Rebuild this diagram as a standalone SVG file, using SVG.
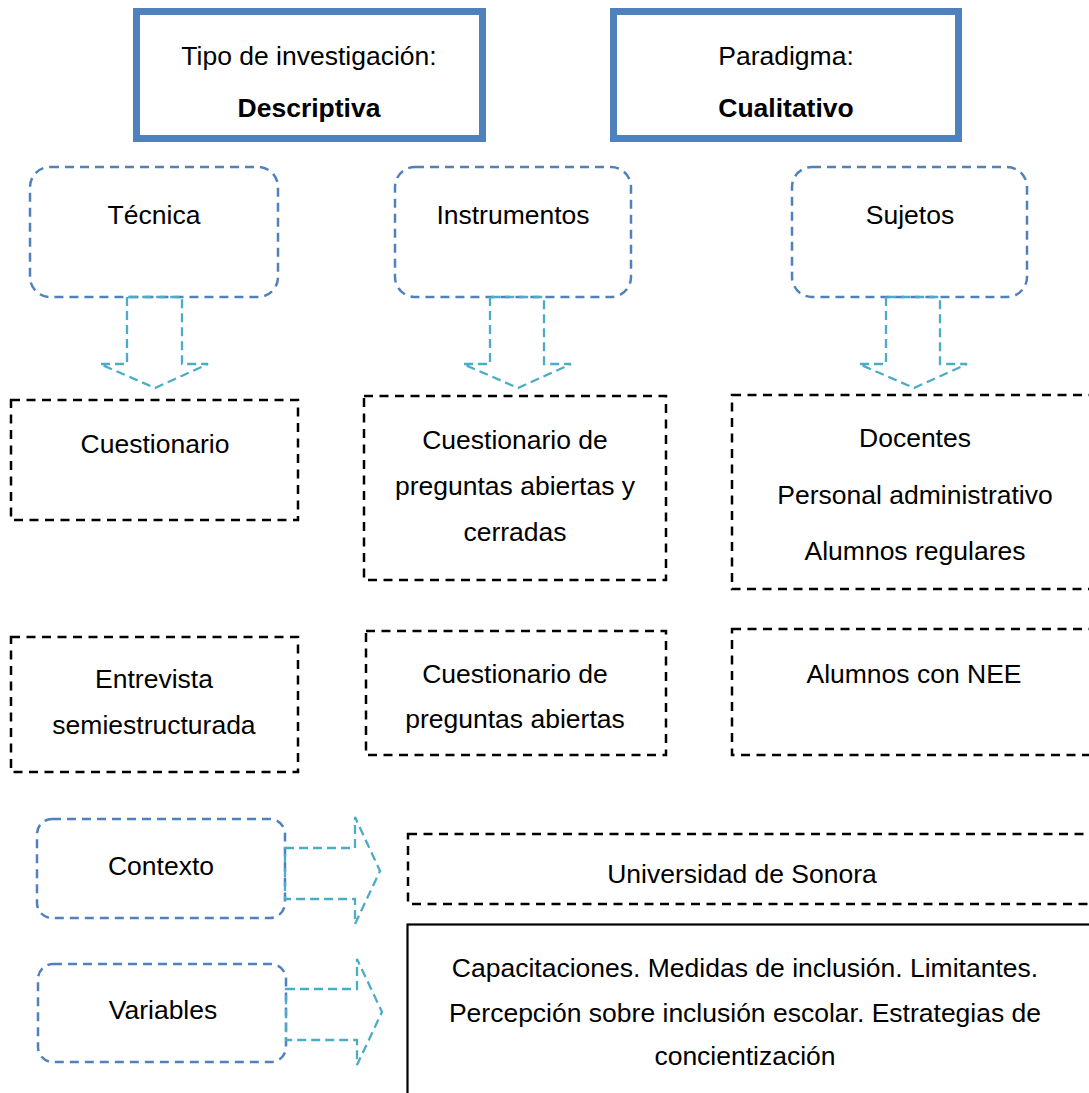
<svg xmlns="http://www.w3.org/2000/svg" width="1089" height="1093" viewBox="0 0 1089 1093">
<style>
text{font-family:"Liberation Sans",Arial,sans-serif;font-size:26.5px;fill:#000;text-anchor:middle}
.b{font-weight:bold}
.title{fill:#fff;stroke:#4f81bd;stroke-width:7}
.rb{fill:#fff;stroke:#4f81bd;stroke-width:2.5;stroke-dasharray:9 6}
.db{fill:#fff;stroke:#000;stroke-width:2.5;stroke-dasharray:9 6.5}
.sb{fill:#fff;stroke:#000;stroke-width:2.2}
.ar{fill:none;stroke:#4bacc6;stroke-width:2.3;stroke-dasharray:9 5;stroke-linejoin:miter}
</style>
<rect width="1089" height="1093" fill="#fff"/>
<g id="tipo">
<rect class="title" x="136.5" y="11.5" width="346" height="127"/>
<text x="309" y="65">Tipo de investigación:</text>
<text class="b" x="309" y="117">Descriptiva</text>
</g>
<g id="paradigma">
<rect class="title" x="613.5" y="11.5" width="345" height="127"/>
<text x="786" y="65">Paradigma:</text>
<text class="b" x="786" y="117">Cualitativo</text>
</g>
<g id="tecnica">
<rect class="rb" x="30" y="167" width="248" height="130" rx="20"/>
<text x="154" y="224">Técnica</text>
</g>
<g id="instrumentos">
<rect class="rb" x="395" y="167" width="236" height="130" rx="20"/>
<text x="513" y="224">Instrumentos</text>
</g>
<g id="sujetos">
<rect class="rb" x="792" y="167" width="235" height="130" rx="20"/>
<text x="910" y="224">Sujetos</text>
</g>
<g id="cuestionario">
<rect class="db" x="11" y="400" width="287" height="120"/>
<text x="155" y="453">Cuestionario</text>
</g>
<g id="cuestionario-ac">
<rect class="db" x="364" y="396" width="302" height="184"/>
<text x="515" y="449">Cuestionario de</text>
<text x="515" y="495">preguntas abiertas y</text>
<text x="515" y="541">cerradas</text>
</g>
<g id="sujetos-lista">
<rect class="db" x="732" y="395" width="380" height="194"/>
<text x="915" y="447">Docentes</text>
<text x="915" y="504">Personal administrativo</text>
<text x="915" y="560">Alumnos regulares</text>
</g>
<g id="entrevista">
<rect class="db" x="11" y="637" width="287" height="135"/>
<text x="154" y="688">Entrevista</text>
<text x="154" y="734">semiestructurada</text>
</g>
<g id="cuestionario-a">
<rect class="db" x="366" y="631" width="300" height="124"/>
<text x="515" y="683">Cuestionario de</text>
<text x="515" y="728">preguntas abiertas</text>
</g>
<g id="nee">
<rect class="db" x="732" y="629" width="380" height="126"/>
<text x="914" y="683">Alumnos con NEE</text>
</g>
<g id="contexto">
<rect class="rb" x="37" y="819" width="248" height="99" rx="15"/>
<text x="161" y="875">Contexto</text>
</g>
<g id="variables">
<rect class="rb" x="38" y="964" width="248" height="98" rx="15"/>
<text x="163" y="1019">Variables</text>
</g>
<g id="universidad">
<rect class="db" x="408" y="834" width="700" height="70"/>
<text x="742" y="883">Universidad de Sonora</text>
</g>
<g id="variables-lista">
<rect class="sb" x="407.5" y="924.5" width="720" height="200"/>
<text x="745" y="977">Capacitaciones. Medidas de inclusión. Limitantes.</text>
<text x="745" y="1022">Percepción sobre inclusión escolar. Estrategias de</text>
<text x="745" y="1065">concientización</text>
</g>
<g id="connectors">
<polygon class="ar" points="127,297 127,364 100,364 155,388 208,364 182,364 182,297"/>
<polygon class="ar" points="490,297 490,364 463,364 518,388 571,364 544,364 544,297"/>
<polygon class="ar" points="886,297 886,364 859,364 914,388 967,364 940,364 940,297"/>
<polygon class="ar" points="285,848 355,848 355,817 380,871 355,924 355,899 285,899"/>
<polygon class="ar" points="286,989 357,989 357,959 382,1012 357,1065 357,1040 286,1040"/>
</g>
</svg>
